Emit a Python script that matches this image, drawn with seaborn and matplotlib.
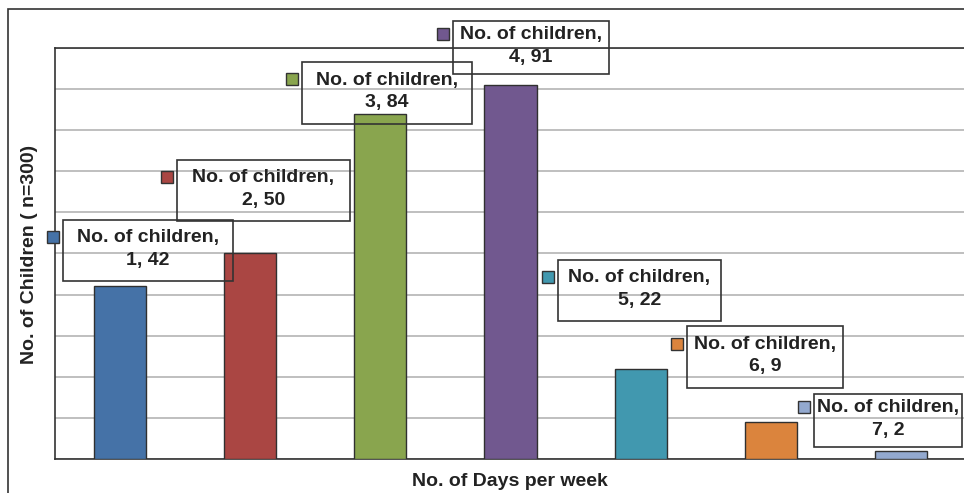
import matplotlib
matplotlib.use("Agg")
import matplotlib.pyplot as plt
import seaborn as sns
import pandas as pd
from matplotlib.patches import Rectangle

# ---- data ----
days = [1, 2, 3, 4, 5, 6, 7]
children = [42, 50, 84, 91, 22, 9, 2]
series_name = "No. of children"
colors = ["#4572A7", "#AA4643", "#89A54E", "#71588F", "#4198AF", "#DB843D", "#93A9CF"]
x_label = "No. of Days per week"
y_label = "No. of Children ( n=300)"

# ---- label box layout (pixels, top-left origin): left, top, width, height ----
boxes = [
    (63, 220, 170, 61),
    (177, 160, 173, 61),
    (302, 62, 170, 62),
    (453, 21, 156, 53),
    (558, 260, 163, 61),
    (687, 326, 156, 62),
    (814, 394, 148, 53),
]

W, H = 964, 493
sns.set_theme(style="white")
plt.rcParams["font.family"] = ["Liberation Sans", "DejaVu Sans"]

fig = plt.figure(figsize=(W / 100, H / 100), dpi=100)
fig.patch.set_facecolor("white")

def fx(px):
    return px / W

def fy(py):
    return 1 - py / H

ax = fig.add_axes([fx(55), fy(459), (966 - 55) / W, (459 - 48) / H])
df = pd.DataFrame({"day": [str(d) for d in days], "n": children})
sns.barplot(data=df, x="day", y="n", hue="day", palette=colors, legend=False,
            width=0.4, edgecolor="#303030", linewidth=1.0, saturation=1, ax=ax, zorder=3)
ax.set_xlim(-0.5, 6.5)
ax.set_ylim(0, 100)
ax.set_yticks(range(0, 101, 10))
ax.set_yticklabels([])
ax.set_xticklabels([])
ax.tick_params(length=0)
ax.set_xlabel("")
ax.set_ylabel("")
ax.yaxis.grid(True, color="#b4b4b4", linewidth=1.2, zorder=0)
ax.set_axisbelow(True)
for s in ["left", "bottom", "top", "right"]:
    ax.spines[s].set_color("#333333")
    ax.spines[s].set_linewidth(1.2)
    ax.spines[s].set_visible(True)

# outer chart-area border
fig.patches.append(Rectangle((fx(8), -0.1), 1.2, fy(9) + 0.1, transform=fig.transFigure,
                             fill=False, edgecolor="#333333", linewidth=1.2))

txt_color = "#222222"
for d, v, c, (l, t, w, h) in zip(days, children, colors, boxes):
    fig.patches.append(Rectangle((fx(l), fy(t + h)), w / W, h / H, transform=fig.transFigure,
                                 fill=False, edgecolor="#333333", linewidth=1.2, zorder=5))
    cy = t + h / 2 - 1.5
    fig.text(fx(l + w / 2), fy(cy), f"{series_name},\n{d}, {v}", ha="center", va="center",
             fontsize=14, fontweight="bold", color=txt_color, linespacing=1.45, zorder=6)
    sq_top = cy - 12 - 6
    fig.patches.append(Rectangle((fx(l - 16), fy(sq_top + 12)), 12 / W, 12 / H,
                                 transform=fig.transFigure, facecolor=c,
                                 edgecolor="#333333", linewidth=1.0, zorder=6))

fig.text(fx(30), fy(254), y_label, rotation=90, ha="center", va="center",
         fontsize=14, fontweight="bold", color=txt_color)
fig.text(fx(510), fy(481), x_label, ha="center", va="center",
         fontsize=14, fontweight="bold", color=txt_color)

fig.savefig("out.png", dpi=100, facecolor="white")
